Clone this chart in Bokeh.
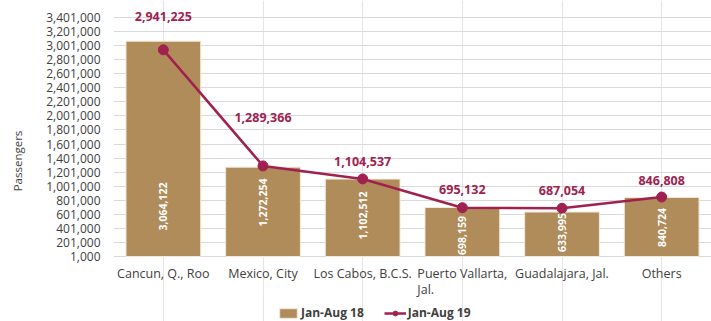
import math
from bokeh.plotting import figure
from bokeh.models import (ColumnDataSource, LabelSet, FixedTicker, NumeralTickFormatter,
                          Legend, LegendItem, Range1d, FactorRange)
from bokeh.core.properties import value
from bokeh.embed import file_html
from bokeh.resources import INLINE

categories = ["Cancun, Q., Roo", "Mexico, City", "Los Cabos, B.C.S.",
              "Puerto Vallarta,\nJal.", "Guadalajara, Jal.", "Others"]
jan_aug_18 = [3064122, 1272254, 1102512, 698159, 633995, 840724]
jan_aug_19 = [2941225, 1289366, 1104537, 695132, 687054, 846808]
y_ticks = [1000 + 200000 * k for k in range(18)]

# label placement (style, pixels)
line_label_offsets = [33, 48, 17, 18, 18, 17]
bar_label_offsets = [50, 54, 41, 21, 24, 29]

FONT = "Open Sans"
BAR_COLOR = "#B08C5B"
LINE_COLOR = "#A0214F"
TEXT_COLOR = "#404040"

base = y_ticks[0]
src = ColumnDataSource(dict(
    cat=categories,
    v18=jan_aug_18,
    v19=jan_aug_19,
    base=[base] * len(categories),
    t18=[f"{v:,}" for v in jan_aug_18],
    t19=[f"{v:,}" for v in jan_aug_19],
    loff=line_label_offsets,
    boff=bar_label_offsets,
))

# frame covers the whole canvas height; the value scale keeps 1,000 at 256px
p = figure(x_range=FactorRange(*categories, range_padding=0),
           y_range=Range1d(-923750, 3643000),
           frame_width=598, frame_height=321, x_axis_location=None,
           output_backend="svg", toolbar_location=None,
           min_border_left=113, min_border_right=0, min_border_top=0, min_border_bottom=0)
p.outline_line_color = None
p.background_fill_color = "white"
p.border_fill_color = "white"

bars = p.vbar(x="cat", top="v18", bottom=base, width=0.75, source=src,
              fill_color=BAR_COLOR, line_color="#F3E9DA", line_width=1)
line = p.line(x="cat", y="v19", source=src, line_color=LINE_COLOR, line_width=2.5)
pts = p.scatter(x="cat", y="v19", source=src, size=10, fill_color=LINE_COLOR,
                line_color=LINE_COLOR)

p.add_layout(LabelSet(x="cat", y="v19", text="t19", source=src, y_offset="loff",
                      text_align="center", text_baseline="middle",
                      text_font=value(FONT), text_font_size="12.5px", text_font_style="bold",
                      text_color=LINE_COLOR))
p.add_layout(LabelSet(x="cat", y="base", text="t18", source=src, y_offset="boff",
                      angle=math.pi / 2, text_align="center", text_baseline="middle",
                      text_font=value(FONT), text_font_size="10.5px", text_font_style="bold",
                      text_color="white"))
# category labels under the bars
p.add_layout(LabelSet(x="cat", y="base", text="cat", source=src, y_offset=-9,
                      text_align="center", text_baseline="top", text_line_height=0.9,
                      text_font=value(FONT), text_font_size="12.5px",
                      text_color=TEXT_COLOR))

p.ygrid.grid_line_color = "#D9D9D9"
p.ygrid.grid_line_width = 1

p.yaxis.ticker = FixedTicker(ticks=y_ticks)
p.yaxis.formatter = NumeralTickFormatter(format="0,0")
p.yaxis.axis_line_color = None
p.yaxis.major_tick_line_color = None
p.yaxis.minor_tick_line_color = None
p.yaxis.major_tick_out = 0
p.yaxis.minor_tick_out = 0
p.yaxis.major_label_standoff = 13
p.yaxis.major_label_text_font = FONT
p.yaxis.major_label_text_font_size = "12px"
p.yaxis.major_label_text_color = TEXT_COLOR
p.yaxis.axis_label = "Passengers"
p.yaxis.axis_label_text_font = FONT
p.yaxis.axis_label_text_font_size = "11.5px"
p.yaxis.axis_label_text_font_style = "normal"
p.yaxis.axis_label_text_color = TEXT_COLOR
p.yaxis.axis_label_standoff = 18

legend = Legend(items=[LegendItem(label="Jan-Aug 18", renderers=[bars]),
                       LegendItem(label="Jan-Aug 19", renderers=[line, pts])],
                orientation="horizontal", location=(164, 0),
                label_text_font=FONT, label_text_font_size="12px",
                label_text_font_style="bold", label_text_color=TEXT_COLOR,
                label_height=14, glyph_width=22, glyph_height=12, label_standoff=2, spacing=20,
                padding=0, margin=0, border_line_color=None,
                background_fill_alpha=0)
p.add_layout(legend, "center")

open("out.html", "w").write(file_html(p, INLINE))
